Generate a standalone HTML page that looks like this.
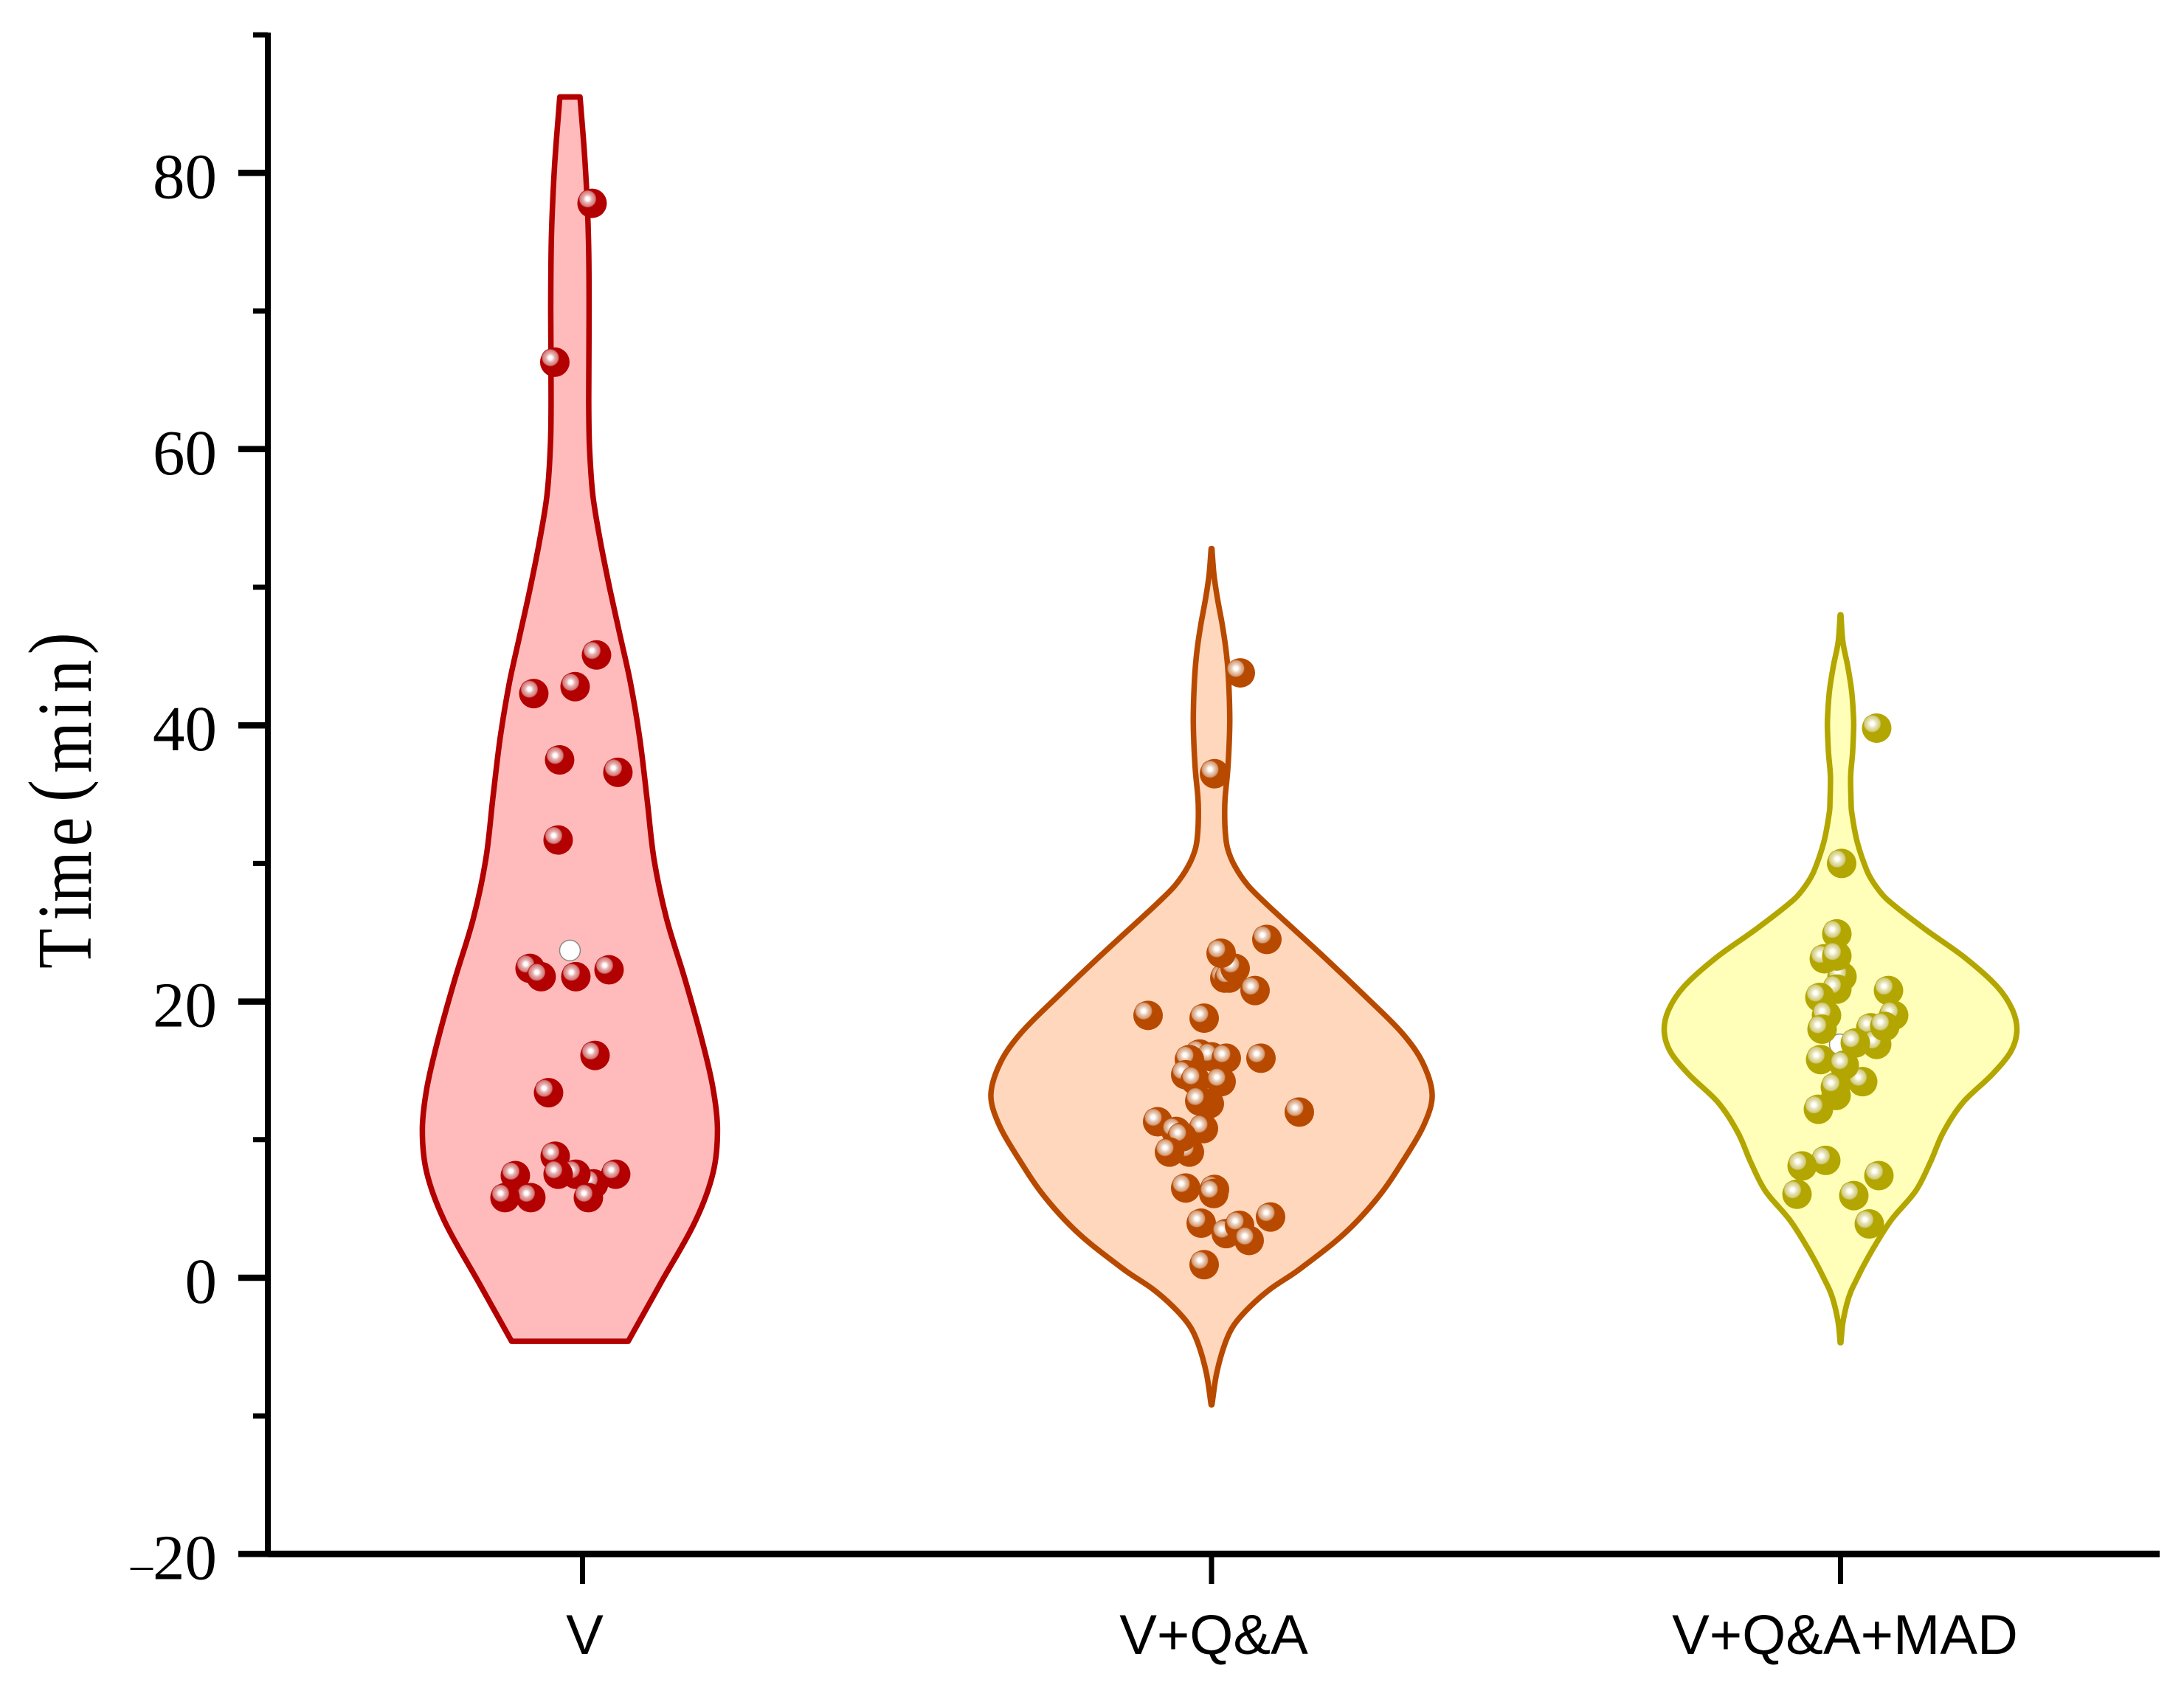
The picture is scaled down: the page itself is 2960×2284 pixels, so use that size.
<!DOCTYPE html>
<html>
<head>
<meta charset="utf-8">
<title>Time violin chart</title>
<style>
html,body{margin:0;padding:0;background:#fff;}
svg{display:block;}
</style>
</head>
<body>
<svg id="chart" xmlns="http://www.w3.org/2000/svg" width="2960" height="2284" viewBox="0 0 2960 2284">
  <rect x="0" y="0" width="2960" height="2284" fill="#ffffff"/>
  <defs>
    <radialGradient id="shine-0"><stop offset="0" stop-color="#ffffff"/><stop offset="0.2" stop-color="#ffffff"/><stop offset="0.48" stop-color="#e8b0b0"/><stop offset="0.88" stop-color="#d27676"/><stop offset="1" stop-color="#b30000"/></radialGradient>
    <radialGradient id="shine-1"><stop offset="0" stop-color="#ffffff"/><stop offset="0.2" stop-color="#ffffff"/><stop offset="0.48" stop-color="#ebcdb8"/><stop offset="0.88" stop-color="#d39a74"/><stop offset="1" stop-color="#b84a00"/></radialGradient>
    <radialGradient id="shine-2"><stop offset="0" stop-color="#ffffff"/><stop offset="0.2" stop-color="#ffffff"/><stop offset="0.48" stop-color="#e9e5b6"/><stop offset="0.88" stop-color="#d0ca80"/><stop offset="1" stop-color="#b3a600"/></radialGradient>
  </defs>
  <g id="violins"></g>
  <g id="axes"></g>
  <text transform="translate(123,1313) rotate(-90) scale(0.85,1)" font-family="'Liberation Serif',serif" font-size="105" fill="#000" x="0 77 106 195 266 312 400 440 501" y="0 0 0 0 -12 0 0 0 -12">Time(min)</text>
</svg>
<script>
const categories = ['V', 'V+Q&A', 'V+Q&A+MAD'];
const categoryPositions = [1, 2, 3];
const violinPositions = [0.98, 2, 3];
const yMajorTicks = [-20, 0, 20, 40, 60, 80];
const yMinorTicks = [-10, 10, 30, 50, 70, 90];

const v1Time = [85.5, 80.6, 75.5, 70, 63.6, 60.2, 56.7, 53.4, 49.9, 46.5, 43.1, 39.1, 34.7, 30.3, 26, 21.6, 17.2, 13.7, 10.7, 7.6, 4.1, -0.3, -4.6];
const v1Density = [0.0137, 0.0207, 0.025, 0.026, 0.0255, 0.0265, 0.031, 0.041, 0.054, 0.068, 0.082, 0.0945, 0.1045, 0.114, 0.131, 0.156, 0.179, 0.194, 0.2, 0.194, 0.17, 0.124, 0.079];
const v2Time = [52.8, 50.9, 49.1, 47.3, 45.5, 43.8, 41.9, 40.2, 38.4, 36.6, 34.8, 33.76, 32.4, 31.1, 29.8, 28.4, 27.1, 25.8, 23.1, 20.5, 17.8, 15.7, 13.3, 11.2, 8.5, 5.85, 3.2, 0.53, -0.8, -2.1, -3.45, -4.8, -6.9, -9.2];
const v2Density = [0.0005, 0.0033, 0.0083, 0.0145, 0.0195, 0.0225, 0.0242, 0.0247, 0.0237, 0.0217, 0.0185, 0.0178, 0.0185, 0.0217, 0.0316, 0.0495, 0.0737, 0.1, 0.155, 0.206, 0.257, 0.285, 0.299, 0.289, 0.26, 0.226, 0.18, 0.117, 0.08, 0.052, 0.03, 0.018, 0.007, 0.0005];
const v3Time = [48, 46, 44.3, 42.5, 40.7, 39.8, 38, 36.3, 34.5, 33.76, 31.6, 29.5, 28.5, 27.4, 25.3, 23.2, 21.1, 19.4, 17.9, 16.4, 14.75, 12.7, 10.5, 8.4, 6.3, 4.2, 2.1, 0.65, -0.05, -1, -1.9, -3.3, -4.7];
const v3Density = [0.0005, 0.0033, 0.0097, 0.015, 0.0175, 0.0178, 0.0163, 0.0137, 0.0143, 0.015, 0.0224, 0.0356, 0.046, 0.063, 0.113, 0.168, 0.212, 0.233, 0.239, 0.231, 0.206, 0.166, 0.139, 0.122, 0.102, 0.069, 0.044, 0.029, 0.0225, 0.014, 0.0085, 0.003, 0.0005];

const v1DotTime = [77.8, 66.3, 45.1, 42.8, 42.3, 37.5, 36.6, 31.7, 22.4, 21.8, 21.8, 22.3, 16.1, 13.4, 8.8, 7.4, 6.8, 7.5, 7.5, 7.5, 5.8, 5.8, 5.8];
const v1DotJitter = [0.03, -0.0205, 0.036, 0.007, -0.049, -0.014, 0.065, -0.016, -0.054, -0.039, 0.008, 0.053, 0.034, -0.029, -0.02, -0.074, 0.032, 0.008, -0.016, 0.062, -0.053, -0.088, 0.025];
const v2DotTime = [43.8, 36.5, 24.5, 21.7, 21.7, 22.4, 23.5, 20.8, 19, 18.8, 16.2, 16, 15.8, 15.9, 15.9, 14.7, 14.3, 14.2, 12.6, 12.8, 12, 11.3, 10.6, 10.8, 9.1, 10.2, 9.1, 6.5, 6.4, 6.1, 3.95, 3.2, 3.8, 2.7, 4.4, 0.95];
const v2DotJitter = [0.039, 0.004, 0.075, 0.018, 0.024, 0.032, 0.013, 0.059, -0.086, -0.01, -0.016, 0, -0.03, 0.02, 0.067, -0.035, -0.022, 0.013, -0.003, -0.016, 0.119, -0.073, -0.048, -0.011, -0.03, -0.04, -0.057, -0.035, 0.004, 0.003, -0.014, 0.02, 0.038, 0.051, 0.08, -0.01];
const v3DotTime = [39.8, 30, 24.9, 21.8, 23.1, 23.3, 20.9, 20.3, 19, 20.8, 19, 18, 18.1, 16.9, 18.2, 17, 15.8, 14.2, 13.2, 15.4, 13.8, 12.2, 8.5, 8.1, 6.05, 5.95, 7.4, 3.9];
const v3DotJitter = [0.049, 0.0015, -0.005, 0.002, -0.022, -0.005, -0.005, -0.028, -0.019, 0.065, 0.072, -0.025, 0.041, 0.049, 0.06, 0.02, -0.027, 0.03, -0.006, 0.005, -0.007, -0.03, -0.02, -0.052, -0.059, 0.018, 0.052, 0.039];

const meanTime = [23.7, 13.2, 16.9];
const meanJitter = [0, 0, -0.001];

const strokeColors = ['#b30000', '#b84a00', '#b3a600'];
const fillColors = ['#ffbbbb', '#ffd7bd', '#ffffb9'];
const labelNudge = [0.003, 0.003, 0.006];

const NS = 'http://www.w3.org/2000/svg';
function yScale(t) { return 1732 - 18.72 * t; }
function xScale(c) { return 1642 + (c - 2) * 852.5; }
function widthScale(d) { return d * 1000; }

function make(tag, parent) {
  const el = document.createElementNS(NS, tag);
  parent.appendChild(el);
  return el;
}

function slope(points, i) {
  const a = points[Math.max(0, i - 1)];
  const b = points[Math.min(points.length - 1, i + 1)];
  return (b[0] - a[0]) / (b[1] - a[1]);
}

function spline(points) {
  let d = '';
  for (let i = 0; i < points.length - 1; i++) {
    const p1 = points[i];
    const p2 = points[i + 1];
    const h = (p2[1] - p1[1]) / 3;
    const c1x = p1[0] + slope(points, i) * h;
    const c1y = p1[1] + h;
    const c2x = p2[0] - slope(points, i + 1) * h;
    const c2y = p2[1] - h;
    d += ' C' + c1x.toFixed(1) + ' ' + c1y.toFixed(1) + ' ' + c2x.toFixed(1) + ' ' + c2y.toFixed(1) + ' ' + p2[0].toFixed(1) + ' ' + p2[1].toFixed(1);
  }
  return d;
}

function violinPath(cx, times, densities) {
  const right = times.map(function (t, i) { return [cx + widthScale(densities[i]), yScale(t)]; });
  const left = times.map(function (t, i) { return [cx - widthScale(densities[i]), yScale(t)]; }).reverse();
  return 'M' + right[0][0].toFixed(1) + ' ' + right[0][1].toFixed(1) + spline(right) +
    ' L' + left[0][0].toFixed(1) + ' ' + left[0][1].toFixed(1) + spline(left) + ' Z';
}

const violinHost = document.getElementById('violins');
const profileTimes = [v1Time, v2Time, v3Time];
const profileDensities = [v1Density, v2Density, v3Density];
const dotTimes = [v1DotTime, v2DotTime, v3DotTime];
const dotJitters = [v1DotJitter, v2DotJitter, v3DotJitter];

categories.forEach(function (cat, s) {
  const cx = xScale(violinPositions[s]);
  const g = make('g', violinHost);
  
  

  const body = make('path', g);
  
  
  body.setAttribute('d', violinPath(cx, profileTimes[s], profileDensities[s]));
  body.setAttribute('fill', fillColors[s]);
  body.setAttribute('stroke', strokeColors[s]);
  body.setAttribute('stroke-width', '7.5');
  body.setAttribute('stroke-linejoin', 'round');

  const mean = make('circle', g);
  
  
  mean.setAttribute('cx', cx + widthScale(meanJitter[s]));
  mean.setAttribute('cy', yScale(meanTime[s]));
  mean.setAttribute('r', '14');
  mean.setAttribute('fill', '#ffffff');
  mean.setAttribute('stroke', '#8a8a8a');
  mean.setAttribute('stroke-width', '1.5');

  dotTimes[s].forEach(function (t, i) {
    const px = cx + widthScale(dotJitters[s][i]);
    const py = yScale(t);
    const ball = make('circle', g);
    
    
    ball.setAttribute('cx', px);
    ball.setAttribute('cy', py);
    ball.setAttribute('r', '20');
    ball.setAttribute('fill', strokeColors[s]);
    const shine = make('circle', g);
    
    
    shine.setAttribute('cx', px - 6);
    shine.setAttribute('cy', py - 6);
    shine.setAttribute('r', '12');
    shine.setAttribute('fill', 'url(#shine-' + s + ')');
  });
});

const axes = document.getElementById('axes');
const xMax = 2927;
const yAxisX = 363;

const yLine = make('line', axes);


yLine.setAttribute('x1', yAxisX);
yLine.setAttribute('x2', yAxisX);
yLine.setAttribute('y1', yScale(90) - 3);
yLine.setAttribute('y2', yScale(-20) + 4);
yLine.setAttribute('stroke', '#000');
yLine.setAttribute('stroke-width', '8');

const xLine = make('line', axes);


xLine.setAttribute('x1', yAxisX);
xLine.setAttribute('x2', xMax);
xLine.setAttribute('y1', yScale(-20));
xLine.setAttribute('y2', yScale(-20));
xLine.setAttribute('stroke', '#000');
xLine.setAttribute('stroke-width', '9');

yMinorTicks.forEach(function (t) {
  const tick = make('line', axes);
  
  
  tick.setAttribute('x1', 343);
  tick.setAttribute('x2', yAxisX);
  tick.setAttribute('y1', yScale(t));
  tick.setAttribute('y2', yScale(t));
  tick.setAttribute('stroke', '#000');
  tick.setAttribute('stroke-width', '7');
});

yMajorTicks.forEach(function (t) {
  const tick = make('line', axes);
  
  
  tick.setAttribute('x1', 323);
  tick.setAttribute('x2', yAxisX);
  tick.setAttribute('y1', yScale(t));
  tick.setAttribute('y2', yScale(t));
  tick.setAttribute('stroke', '#000');
  tick.setAttribute('stroke-width', '8.5');

  const label = make('text', axes);
  
  
  label.setAttribute('x', 294);
  label.setAttribute('y', yScale(t) + 34);
  label.setAttribute('text-anchor', 'end');
  label.setAttribute('font-family', "'Liberation Serif', serif");
  label.setAttribute('font-size', '87');
  label.setAttribute('fill', '#000');
  if (t < 0) {
    const sign = make('tspan', label);
    sign.setAttribute('font-size', '60');
    sign.textContent = '\u2013';
    const digits = make('tspan', label);
    digits.textContent = String(Math.abs(t));
  } else {
    label.textContent = String(t);
  }
});

categories.forEach(function (cat, i) {
  const cx = xScale(categoryPositions[i]);
  const tick = make('line', axes);
  
  
  tick.setAttribute('x1', cx);
  tick.setAttribute('x2', cx);
  tick.setAttribute('y1', yScale(-20));
  tick.setAttribute('y2', 2147);
  tick.setAttribute('stroke', '#000');
  tick.setAttribute('stroke-width', '7');

  const label = make('text', axes);
  
  
  label.setAttribute('x', cx + widthScale(labelNudge[i]));
  label.setAttribute('y', 2242);
  label.setAttribute('text-anchor', 'middle');
  label.setAttribute('font-family', "'Liberation Sans', sans-serif");
  label.setAttribute('font-size', '76');
  label.setAttribute('fill', '#000');
  label.textContent = cat;
});
</script>
</body>
</html>
